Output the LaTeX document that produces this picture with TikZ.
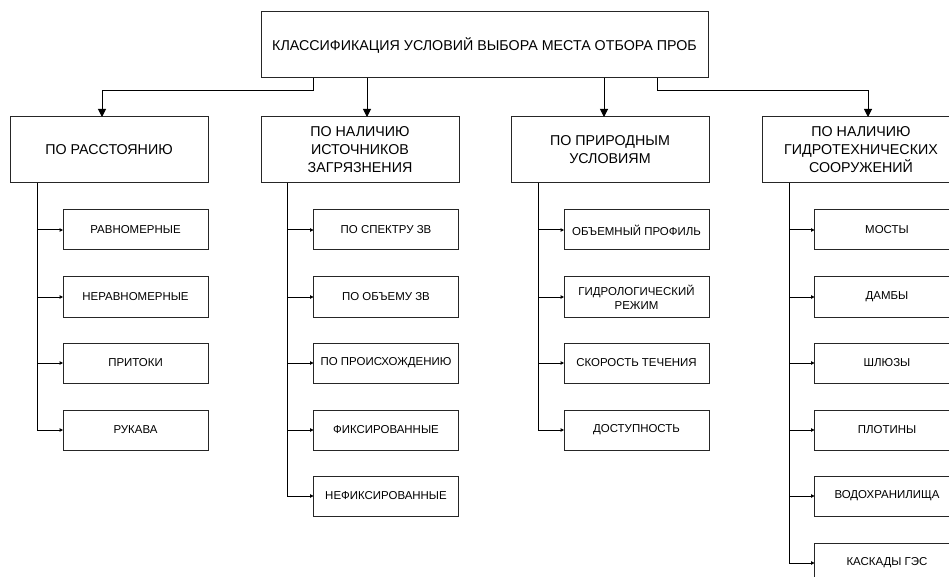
\documentclass[tikz,border=0pt]{standalone}
\usepackage{fontspec}
\setmainfont{Liberation Sans}
\usetikzlibrary{arrows.meta}
\begin{document}
\begin{tikzpicture}[x=0.75pt,y=-0.75pt,
  every node/.style={inner sep=0pt,outer sep=0pt},
  topbox/.style={draw=black!85,line width=0.75pt,minimum width=335.25pt,minimum height=49.5pt,align=center,font=\fontsize{10.7pt}{13.5pt}\selectfont},
  catbox/.style={draw=black!85,line width=0.75pt,minimum width=148.5pt,minimum height=49.5pt,align=center,font=\fontsize{10.7pt}{13.5pt}\selectfont},
  subbox/.style={draw=black!85,line width=0.75pt,minimum width=108.75pt,minimum height=30pt,align=center,font=\fontsize{8.6pt}{10.5pt}\selectfont},
  mainarrow/.style={draw=black,line width=0.75pt,-{Triangle[length=6pt,width=6pt]}},
  subline/.style={draw=black,line width=0.75pt},
  subarrow/.style={draw=black,line width=0.75pt,-{Triangle[length=2.5pt,width=2.5pt]}}]
\clip (0,0) rectangle (949,577);
\fill[white] (0,0) rectangle (949,577);

\node[topbox] (top) at (484.5,45) {КЛАССИФИКАЦИЯ УСЛОВИЙ ВЫБОРА МЕСТА ОТБОРА ПРОБ};

\node[catbox] (c1) at (109,150) {ПО РАССТОЯНИЮ};
\node[catbox] (c2) at (360,150) {ПО НАЛИЧИЮ\\ИСТОЧНИКОВ\\ЗАГРЯЗНЕНИЯ};
\node[catbox] (c3) at (610,150) {ПО ПРИРОДНЫМ\\УСЛОВИЯМ};
\node[catbox] (c4) at (861,150) {ПО НАЛИЧИЮ\\ГИДРОТЕХНИЧЕСКИХ\\СООРУЖЕНИЙ};

% top connectors
\coordinate (t1) at (313,0);
\coordinate (a1) at (102,0);
\coordinate (t2) at (367,0);
\coordinate (t3) at (604,0);
\coordinate (t4) at (657,0);
\coordinate (a4) at (868,0);
\coordinate (h) at (0,91);
\draw[mainarrow] (top.south -| t1) -- (t1 |- h) -- (a1 |- h) -- (c1.north -| a1);
\draw[mainarrow] (top.south -| t2) -- (c2.north -| t2);
\draw[mainarrow] (top.south -| t3) -- (c3.north -| t3);
\draw[mainarrow] (top.south -| t4) -- (t4 |- h) -- (a4 |- h) -- (c4.north -| a4);

% column 1
\node[subbox] (s11) at (135.5,230) {РАВНОМЕРНЫЕ};
\node[subbox] (s12) at (135.5,297) {НЕРАВНОМЕРНЫЕ};
\node[subbox] (s13) at (135.5,363) {ПРИТОКИ};
\node[subbox] (s14) at (135.5,430) {РУКАВА};
\coordinate (v1) at (37,0);
\draw[subline] (c1.south -| v1) -- (s14.west -| v1);
\foreach \s in {s11,s12,s13,s14} \draw[subarrow] (\s.west -| v1) -- (\s.west);

% column 2
\node[subbox] (s21) at (386,230) {ПО СПЕКТРУ ЗВ};
\node[subbox] (s22) at (386,297) {ПО ОБЪЕМУ ЗВ};
\node[subbox] (s23) at (386,363) {ПО ПРОИСХОЖДЕНИЮ};
\node[subbox] (s24) at (386,430) {ФИКСИРОВАННЫЕ};
\node[subbox] (s25) at (386,496) {НЕФИКСИРОВАННЫЕ};
\coordinate (v2) at (287,0);
\draw[subline] (c2.south -| v2) -- (s25.west -| v2);
\foreach \s in {s21,s22,s23,s24,s25} \draw[subarrow] (\s.west -| v2) -- (\s.west);

% column 3
\node[subbox] (s31) at (636.5,230) {ОБЪЕМНЫЙ ПРОФИЛЬ};
\node[subbox] (s32) at (636.5,297) {ГИДРОЛОГИЧЕСКИЙ\\РЕЖИМ};
\node[subbox] (s33) at (636.5,363) {СКОРОСТЬ ТЕЧЕНИЯ};
\node[subbox] (s34) at (636.5,430) {ДОСТУПНОСТЬ};
\coordinate (v3) at (538,0);
\draw[subline] (c3.south -| v3) -- (s34.west -| v3);
\foreach \s in {s31,s32,s33,s34} \draw[subarrow] (\s.west -| v3) -- (\s.west);

% column 4
\node[subbox] (s41) at (887,230) {МОСТЫ};
\node[subbox] (s42) at (887,297) {ДАМБЫ};
\node[subbox] (s43) at (887,363) {ШЛЮЗЫ};
\node[subbox] (s44) at (887,430) {ПЛОТИНЫ};
\node[subbox] (s45) at (887,496) {ВОДОХРАНИЛИЩА};
\node[subbox] (s46) at (887,563) {КАСКАДЫ ГЭС};
\coordinate (v4) at (789,0);
\draw[subline] (c4.south -| v4) -- (s46.west -| v4);
\foreach \s in {s41,s42,s43,s44,s45,s46} \draw[subarrow] (\s.west -| v4) -- (\s.west);
\end{tikzpicture}
\end{document}
